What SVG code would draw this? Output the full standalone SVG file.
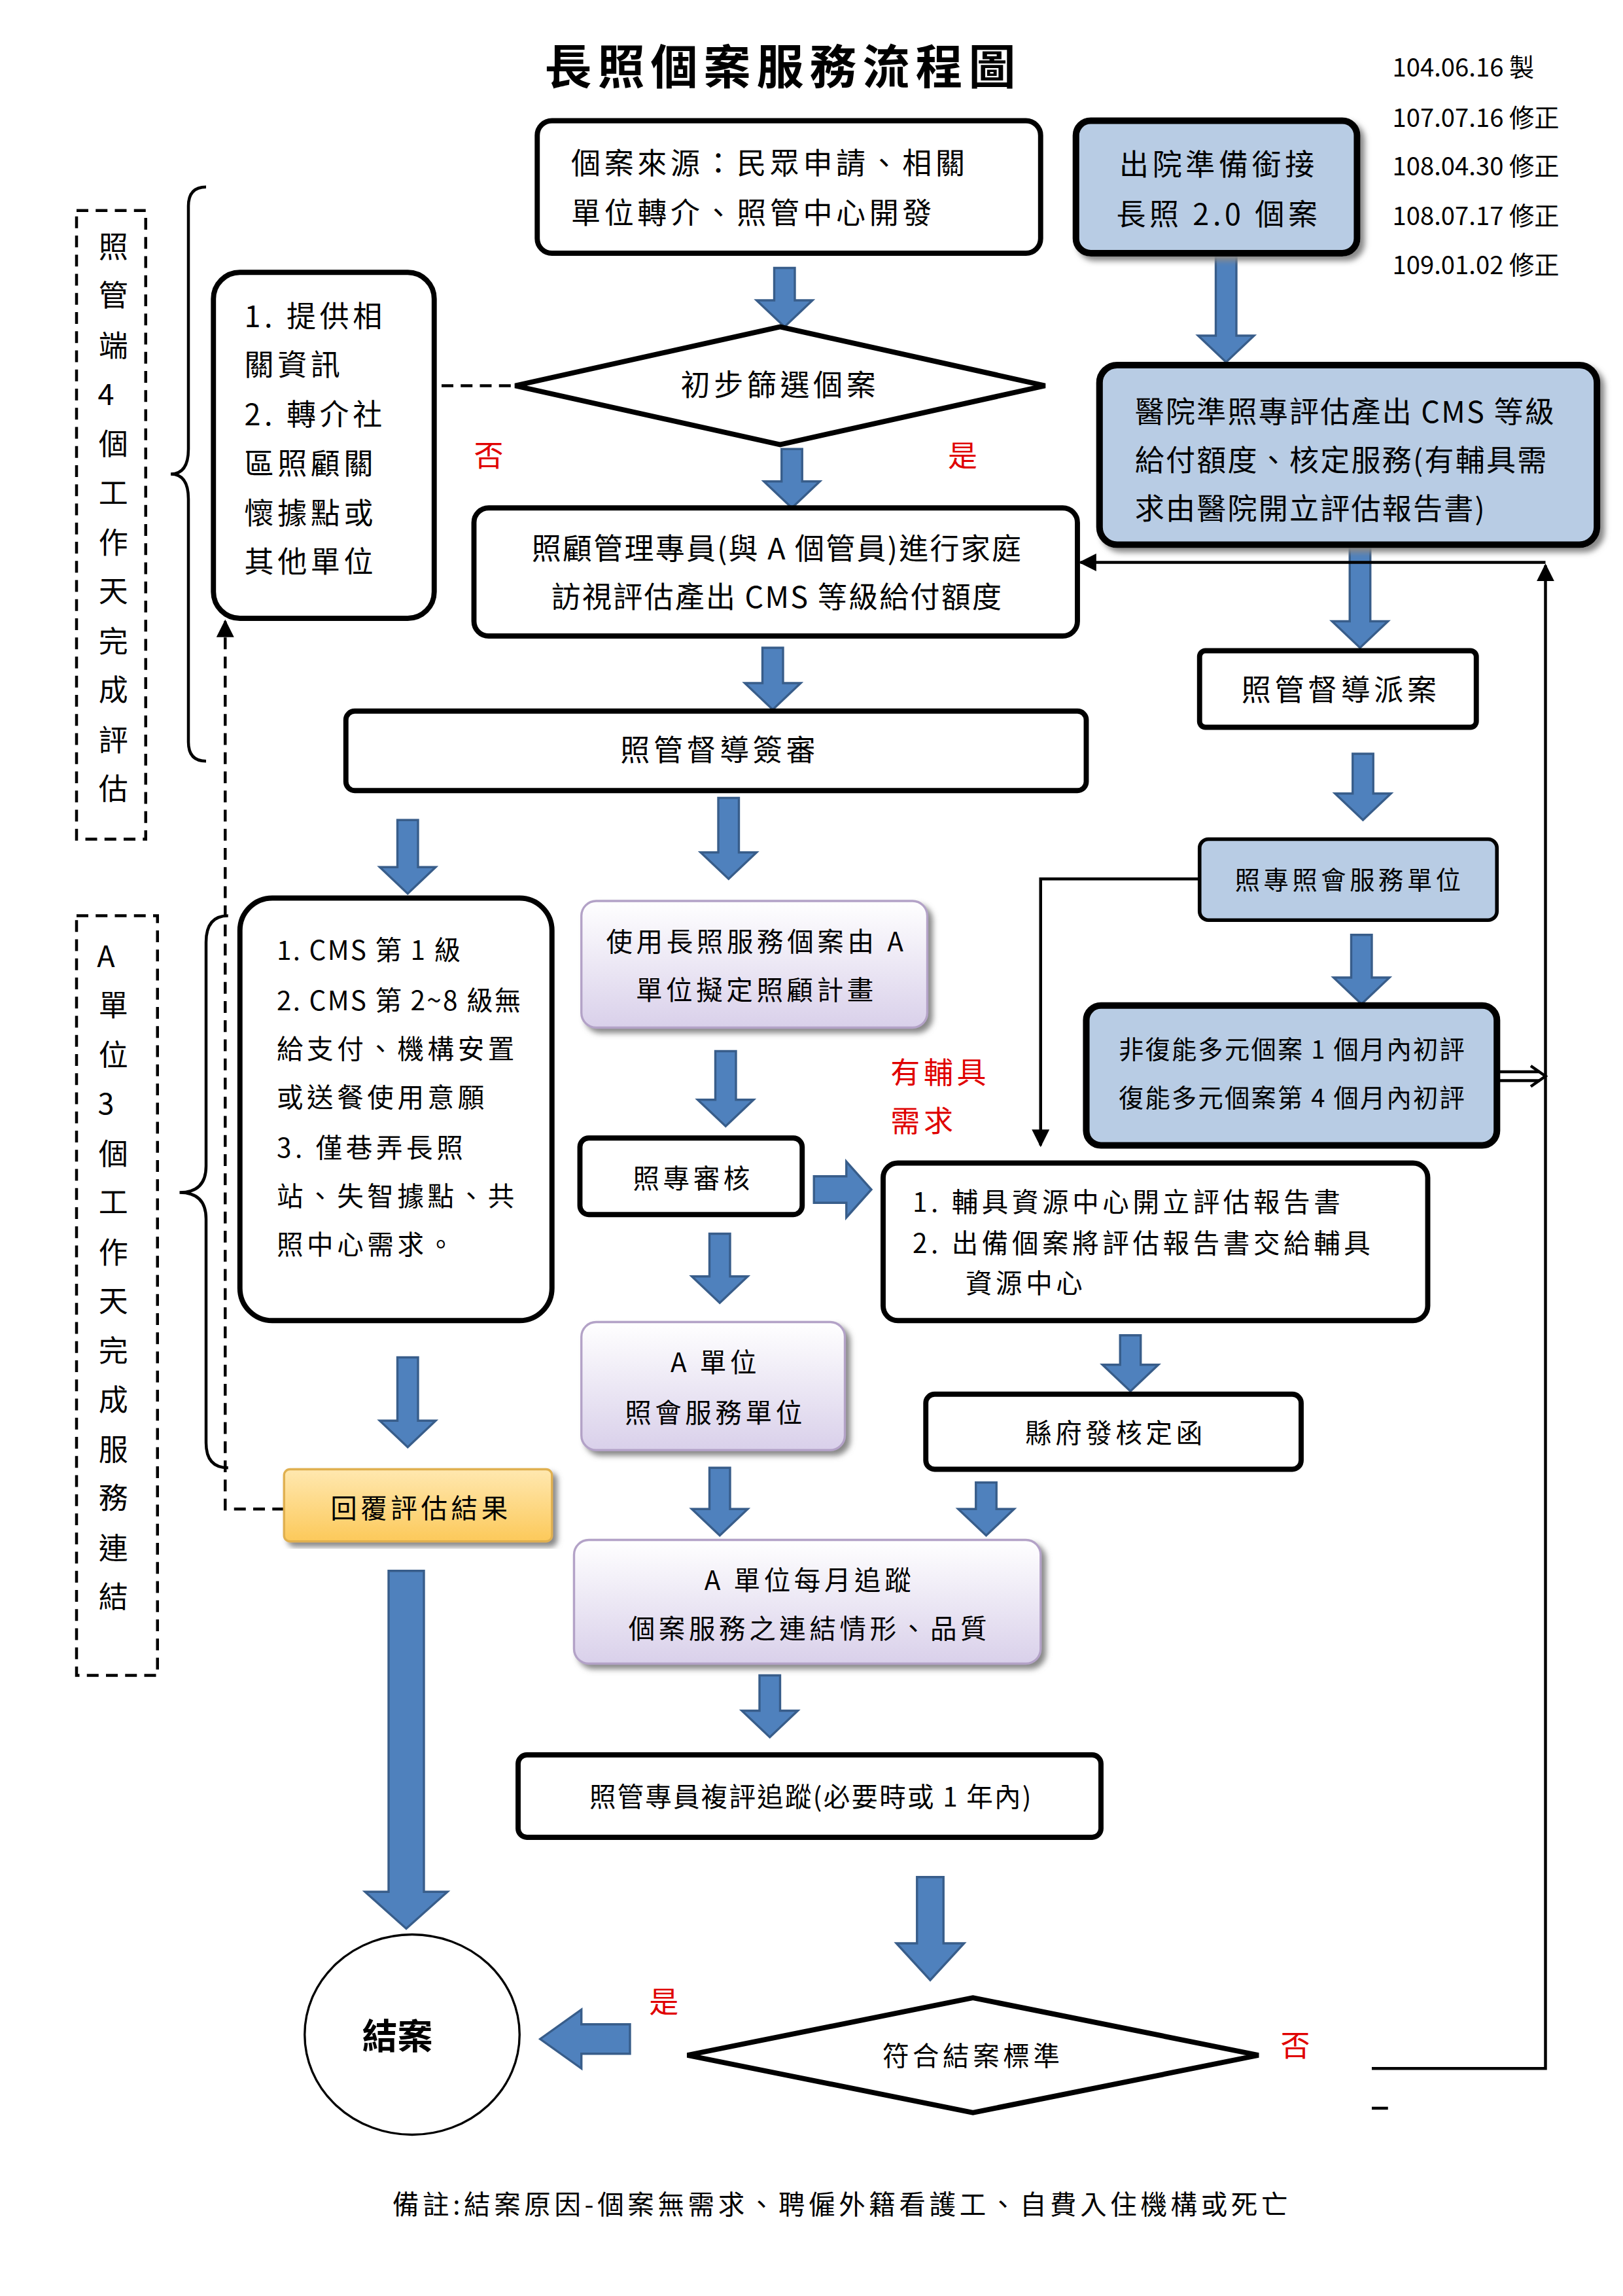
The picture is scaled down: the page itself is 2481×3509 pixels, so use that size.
<svg xmlns="http://www.w3.org/2000/svg" width="2481" height="3509" viewBox="0 0 2481 3509">
<style>
text{font-family:"Noto Sans CJK TC","Noto Sans CJK SC",sans-serif;fill:#000;letter-spacing:2.5px}
.t{font-size:20px}
.n{letter-spacing:1px}
.bx{fill:#fff;stroke:#000;stroke-width:3.5}
.bl{fill:#b8cce4;stroke:#000;stroke-width:4.5}
.pu{fill:url(#gp);stroke:#b3a2c7;stroke-width:1.5}
.ar{fill:#4f81bd;stroke:#385d8a;stroke-width:1.5}
.r{fill:#e00000;font-size:20px}
.ln{fill:none;stroke:#000;stroke-width:2}
.dl{fill:none;stroke:#000;stroke-width:2;stroke-dasharray:8,5}
.v{font-size:20px;text-anchor:middle;letter-spacing:0}
</style>
<defs>
<linearGradient id="gp" x1="0" y1="0" x2="0" y2="1"><stop offset="0" stop-color="#ffffff"/><stop offset="1" stop-color="#d9d0ea"/></linearGradient>
<linearGradient id="go" x1="0" y1="0" x2="0" y2="1"><stop offset="0" stop-color="#ffe8b0"/><stop offset="1" stop-color="#fcc95a"/></linearGradient>
<marker id="ah" viewBox="0 0 10 10" refX="9" refY="5" markerWidth="6" markerHeight="6" orient="auto"><path d="M0 0L10 5L0 10Z" fill="#000"/></marker>
<filter id="sh"><feDropShadow dx="3" dy="3" stdDeviation="2" flood-color="#888"/></filter>
</defs>
<rect width="2481" height="3509" fill="#fff"/>
<g transform="scale(2.25)">
<g id="title"><text x="532" y="57" font-size="32" font-weight="bold" text-anchor="middle" style="letter-spacing:4px">長照個案服務流程圖</text></g>
<g id="dates">
<text x="946" y="52" font-size="17" style="letter-spacing:0">104.06.16 製</text>
<text x="946" y="86" font-size="17" style="letter-spacing:0">107.07.16 修正</text>
<text x="946" y="119" font-size="17" style="letter-spacing:0">108.04.30 修正</text>
<text x="946" y="153" font-size="17" style="letter-spacing:0">108.07.17 修正</text>
<text x="946" y="186" font-size="17" style="letter-spacing:0">109.01.02 修正</text>
</g>
<g id="connectors">
<path class="ar" d="M526 182H540V204H552L533 222L514 204H526Z"/>
<path class="ar" d="M531 305H545V327H557L538 345L519 327H531Z"/>
<path class="ar" d="M826 172H840V228H852L833 246L814 228H826Z"/>
<path class="ar" d="M917 370H931V422H943L924 440L905 422H917Z"/>
<path class="ar" d="M518 440H532V464H544L525 482L506 464H518Z"/>
<path class="ar" d="M919 512H933V539H945L926 557L907 539H919Z"/>
<path class="ar" d="M918 635H932V664H944L925 682L906 664H918Z"/>
<path class="ar" d="M270 557H284V589H296L277 607L258 589H270Z"/>
<path class="ar" d="M488 542H502V579H514L495 597L476 579H488Z"/>
<path class="ar" d="M486 714H500V747H512L493 765L474 747H486Z"/>
<path class="ar" d="M553 799H575V789L592 808L575 827V817H553Z"/>
<path class="ar" d="M761 907H775V927H787L768 945L749 927H761Z"/>
<path class="ar" d="M482 838H496V867H508L489 885L470 867H482Z"/>
<path class="ar" d="M270 922H284V965H296L277 983L258 965H270Z"/>
<path class="ar" d="M482 997H496V1025H508L489 1043L470 1025H482Z"/>
<path class="ar" d="M663 1007H677V1025H689L670 1043L651 1025H663Z"/>
<path class="ar" d="M516 1138H530V1162H542L523 1180L504 1162H516Z"/>
<path class="ar" d="M623 1275H641V1320H655L632 1345L609 1320H623Z"/>
<path class="ar" d="M264 1067H288V1285H304L276 1310L248 1285H264Z"/>
<path class="ar" d="M428 1375H395V1365L367 1385L395 1405V1395H428Z"/>
<path class="dl" d="M300 262H350"/>
<path class="dl" d="M193 1025H153V422" marker-end="url(#ah)"/>
<path class="ln" d="M932 1405H1050V384" marker-end="url(#ah)"/>
<path class="ln" d="M1050 382H734" marker-end="url(#ah)"/>
<path class="ln" d="M932 1432H943"/>
<path class="ln" d="M815 597H707V778" marker-end="url(#ah)"/>
<path class="ln" d="M1017 728H1046M1017 734H1046"/>
<path class="ln" d="M1040 724L1050 731L1040 738"/>
<path class="ln" d="M140 127Q128 127 128 140V305Q128 322 116 322Q128 322 128 339V504Q128 517 140 517"/>
<path class="ln" d="M155 622Q140 622 140 640V792Q140 810 122 810Q140 810 140 828V980Q140 997 155 997"/>
</g>
<g id="n-source"><rect class="bx" x="365" y="82" width="342" height="90" rx="10"/>
<text class="t" x="388" y="118">個案來源：民眾申請、相關</text><text class="t" x="388" y="152">單位轉介、照管中心開發</text></g>
<g id="n-hosp"><rect class="bl" x="731" y="82" width="191" height="90" rx="10" filter="url(#sh)"/>
<text class="t" x="828" y="119" text-anchor="middle">出院準備銜接</text><text class="t" x="828" y="153" text-anchor="middle">長照 2.0 個案</text></g>
<g id="n-screen"><path class="bx" d="M350 262L530 222L710 262L530 302Z"/><text class="t" x="530" y="269" text-anchor="middle">初步篩選個案</text></g>
<g id="n-info"><rect class="bx" x="145" y="185" width="150" height="235" rx="18"/>
<text class="t" x="166" y="222">1.  提供相</text><text class="t" x="166" y="255">關資訊</text><text class="t" x="166" y="289">2.  轉介社</text><text class="t" x="166" y="322">區照顧關</text><text class="t" x="166" y="356">懷據點或</text><text class="t" x="166" y="389">其他單位</text></g>
<text class="r" x="322" y="317">否</text><text class="r" x="644" y="317">是</text>
<g id="n-visit"><rect class="bx" x="322" y="345" width="410" height="87" rx="10"/>
<text class="t n" x="528" y="380" text-anchor="middle">照顧管理專員(與 A 個管員)進行家庭</text><text class="t n" x="528" y="413" text-anchor="middle">訪視評估產出 CMS 等級給付額度</text></g>
<g id="n-hosp2"><rect class="bl" x="747" y="248" width="338" height="122" rx="12" filter="url(#sh)"/>
<text class="t n" x="771" y="287">醫院準照專評估產出 CMS 等級</text><text class="t n" x="771" y="320">給付額度、核定服務(有輔具需</text><text class="t n" x="771" y="353">求由醫院開立評估報告書)</text></g>
<g id="n-dispatch"><rect class="bx" x="815" y="442" width="188" height="52" rx="4"/><text class="t" x="911" y="476" text-anchor="middle">照管督導派案</text></g>
<g id="n-notify"><rect class="bl" x="815" y="570" width="202" height="55" rx="6" style="stroke-width:2.5"/><text x="917" y="604" font-size="17" text-anchor="middle">照專照會服務單位</text></g>
<g id="n-init"><rect class="bl" x="738" y="683" width="279" height="95" rx="10"/>
<text class="n" x="878" y="719" font-size="17" text-anchor="middle">非復能多元個案 1 個月內初評</text><text class="n" x="878" y="752" font-size="17" text-anchor="middle">復能多元個案第 4 個月內初評</text></g>
<g id="n-review"><rect class="bx" x="235" y="483" width="503" height="54" rx="6"/><text class="t" x="489" y="517" text-anchor="middle">照管督導簽審</text></g>
<g id="n-cms"><rect class="bx" x="163" y="610" width="212" height="287" rx="22"/>
<text class="n" x="188" y="652" font-size="18">1.  CMS 第 1 級</text><text class="n" x="188" y="686" font-size="18">2. CMS 第 2~8 級無</text><text x="188" y="719" font-size="18">給支付、機構安置</text><text x="188" y="752" font-size="18">或送餐使用意願</text><text x="188" y="786" font-size="18">3.  僅巷弄長照</text><text x="188" y="819" font-size="18">站、失智據點、共</text><text x="188" y="852" font-size="18">照中心需求。</text></g>
<g id="n-plan"><rect class="pu" x="395" y="612" width="235" height="86" rx="10" filter="url(#sh)"/>
<text x="514" y="646" font-size="18" text-anchor="middle">使用長照服務個案由 A</text><text x="514" y="679" font-size="18" text-anchor="middle">單位擬定照顧計畫</text></g>
<text class="r" x="605" y="736">有輔具</text><text class="r" x="605" y="769">需求</text>
<g id="n-check"><rect class="bx" x="394" y="773" width="151" height="52" rx="6"/><text x="471" y="807" font-size="18" text-anchor="middle">照專審核</text></g>
<g id="n-aid"><rect class="bx" x="600" y="790" width="370" height="107" rx="10"/>
<text x="620" y="823" font-size="18">1.   輔具資源中心開立評估報告書</text><text x="620" y="851" font-size="18">2.   出備個案將評估報告書交給輔具</text><text x="656" y="878" font-size="18">資源中心</text></g>
<g id="n-gov"><rect class="bx" x="629" y="947" width="255" height="51" rx="6"/><text x="758" y="980" font-size="18" text-anchor="middle">縣府發核定函</text></g>
<g id="n-aunit"><rect class="pu" x="395" y="898" width="179" height="87" rx="10" filter="url(#sh)"/>
<text x="486" y="932" font-size="18" text-anchor="middle">A 單位</text><text x="486" y="966" font-size="18" text-anchor="middle">照會服務單位</text></g>
<g id="n-reply"><rect x="193" y="998" width="182" height="49" rx="4" fill="url(#go)" stroke="#e0b050" stroke-width="1.5" filter="url(#sh)"/><text x="286" y="1031" font-size="18" text-anchor="middle">回覆評估結果</text></g>
<g id="n-track"><rect class="pu" x="390" y="1046" width="317" height="84" rx="10" filter="url(#sh)"/>
<text x="550" y="1080" font-size="18" text-anchor="middle">A 單位每月追蹤</text><text x="550" y="1113" font-size="18" text-anchor="middle">個案服務之連結情形、品質</text></g>
<g id="n-reeval"><rect class="bx" x="352" y="1192" width="396" height="56" rx="6"/><text class="n" x="551" y="1227" font-size="18" text-anchor="middle">照管專員複評追蹤(必要時或 1 年內)</text></g>
<g id="n-close-crit"><path class="bx" d="M467 1396L661 1357L855 1396L661 1435Z"/><text x="661" y="1403" font-size="18" text-anchor="middle">符合結案標準</text></g>
<text class="r" x="441" y="1367">是</text><text class="r" x="870" y="1397">否</text>
<g id="n-close"><ellipse cx="280" cy="1382" rx="73" ry="68" fill="#fff" stroke="#000" stroke-width="1.5"/><text x="270" y="1392" font-size="24" font-weight="bold" text-anchor="middle" style="letter-spacing:0">結案</text></g>
<g id="n-side1"><rect class="dl" x="52" y="143" width="47" height="427"/>
<text class="v" x="77" y="175">照</text><text class="v" x="77" y="208">管</text><text class="v" x="77" y="242">端</text><text class="v" x="72" y="275">4</text><text class="v" x="77" y="309">個</text><text class="v" x="77" y="342">工</text><text class="v" x="77" y="376">作</text><text class="v" x="77" y="409">天</text><text class="v" x="77" y="443">完</text><text class="v" x="77" y="476">成</text><text class="v" x="77" y="510">評</text><text class="v" x="77" y="543">估</text></g>
<g id="n-side2"><rect class="dl" x="52" y="622" width="55" height="516"/>
<text class="v" x="72" y="657">A</text><text class="v" x="77" y="690">單</text><text class="v" x="77" y="724">位</text><text class="v" x="72" y="757">3</text><text class="v" x="77" y="791">個</text><text class="v" x="77" y="824">工</text><text class="v" x="77" y="858">作</text><text class="v" x="77" y="891">天</text><text class="v" x="77" y="925">完</text><text class="v" x="77" y="958">成</text><text class="v" x="77" y="992">服</text><text class="v" x="77" y="1025">務</text><text class="v" x="77" y="1059">連</text><text class="v" x="77" y="1092">結</text></g>
<g id="note"><text x="572" y="1504" font-size="18" text-anchor="middle">備註:結案原因-個案無需求、聘僱外籍看護工、自費入住機構或死亡</text></g>
</g>
</svg>
